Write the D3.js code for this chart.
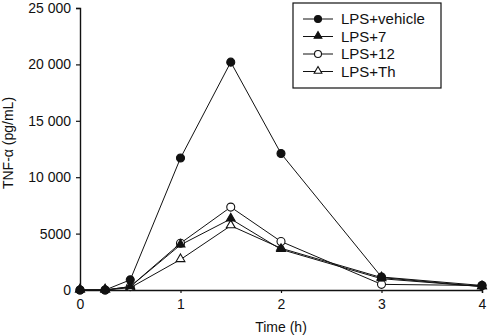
<!DOCTYPE html>
<html>
<head>
<meta charset="utf-8">
<script src="https://cdn.jsdelivr.net/npm/d3@7"></script>
<style>
  body { margin: 0; background: #fff; }
  text { font-family: "Liberation Sans", Arial, sans-serif; fill: #111; }
</style>
</head>
<body>
<div id="chart"></div>
<script>
// data
const times = [0, 0.25, 0.5, 1, 1.5, 2, 3, 4];
const vehicle = [0, 0, 900, 11700, 20200, 12100, 1150, 400];
const lps7 = [0, 0, 300, 4000, 6300, 3600, 1000, 300];
const lps12 = [0, 0, 300, 4150, 7350, 4300, 500, 400];
const lpsTh = [0, 0, 200, 2700, 5700, 3700, 1100, 300];
const seriesNames = ["LPS+vehicle", "LPS+7", "LPS+12", "LPS+Th"];
const xTicks = [0, 1, 2, 3, 4];
const yTicks = [0, 5000, 10000, 15000, 20000, 25000];

const series = [
    {name: seriesNames[0], values: vehicle, shape: "circle", filled: true},
    {name: seriesNames[1], values: lps7, shape: "triangle", filled: true},
    {name: seriesNames[2], values: lps12, shape: "circle", filled: false},
    {name: seriesNames[3], values: lpsTh, shape: "triangle", filled: false}
];

const W = 489, H = 336;
const margin = {top: 8, right: 7, bottom: 46, left: 80};
const width = W - margin.left - margin.right,
    height = H - margin.top - margin.bottom;

const svg = d3.select("#chart").append("svg")
    .attr("width", W)
    .attr("height", H)
    .append("g")
    .attr("transform", "translate(" + margin.left + "," + margin.top + ")");

const x = d3.scaleLinear().domain([0, 4]).range([0, width]);
const y = d3.scaleLinear().domain([0, 25000]).range([height, 0]);

const fmt = v => v >= 10000 ? d3.format(",")(v).replace(",", " ") : String(v);

const xAxis = svg.append("g")
    .attr("transform", "translate(0," + height + ")")
    .call(d3.axisBottom(x).tickValues(xTicks).tickSize(3).tickPadding(6).tickFormat(d3.format("d")));
const yAxis = svg.append("g")
    .call(d3.axisLeft(y).tickValues(yTicks).tickSize(4).tickPadding(5).tickFormat(fmt));

[xAxis, yAxis].forEach(a => {
    a.select(".domain").attr("stroke", "#111").attr("stroke-width", 1.4);
    a.selectAll(".tick line").attr("stroke", "#111").attr("stroke-width", 1.2);
    a.selectAll(".tick text").attr("font-size", 14).attr("fill", "#111")
        .style("font-family", "'Liberation Sans', Arial, sans-serif");
});

svg.append("text")
    .attr("x", width / 2)
    .attr("y", height + 42)
    .attr("text-anchor", "middle")
    .attr("font-size", 14)
    .text("Time (h)");

svg.append("text")
    .attr("transform", "translate(" + (-67) + "," + (height / 2 - 6) + ") rotate(-90)")
    .attr("text-anchor", "middle")
    .attr("font-size", 14)
    .text("TNF-α (pg/mL)");

const line = d3.line()
    .x((d, i) => x(times[i]))
    .y(d => y(d));

const triangle = d3.symbol().type(d3.symbolTriangle).size(34);

function drawMarker(g, s, cx, cy, r) {
    r = r || 4;
    if (s.shape === "circle") {
        g.append("circle")
            .attr("cx", cx).attr("cy", cy).attr("r", r)
            .attr("fill", s.filled ? "#111" : "#fff")
            .attr("stroke", "#111").attr("stroke-width", 1.1);
    } else {
        g.append("path")
            .attr("d", d3.symbol().type(d3.symbolTriangle).size(r * r * 2.1)())
            .attr("transform", "translate(" + cx + "," + (cy - 0.5) + ")")
            .attr("fill", s.filled ? "#111" : "#fff")
            .attr("stroke", "#111").attr("stroke-width", 1.1);
    }
}

// draw lines first, then markers on top
series.forEach(s => {
    svg.append("path")
        .datum(s.values)
        .attr("fill", "none")
        .attr("stroke", "#111")
        .attr("stroke-width", 1)
        .attr("d", line);
});
series.slice().reverse().forEach(s => {
    const g = svg.append("g");
    s.values.forEach((v, i) => drawMarker(g, s, x(times[i]), y(v)));
});

// legend
const legend = svg.append("g").attr("transform", "translate(213,-5)");
legend.append("rect")
    .attr("width", 148).attr("height", 85)
    .attr("fill", "#fff").attr("stroke", "#111").attr("stroke-width", 1.2);

series.forEach((s, i) => {
    const ly = 16 + i * 17.5;
    legend.append("line")
        .attr("x1", 10).attr("x2", 40)
        .attr("y1", ly).attr("y2", ly)
        .attr("stroke", "#111").attr("stroke-width", 1);
    drawMarker(legend, s, 25, ly, 3.5);
    legend.append("text")
        .attr("x", 48).attr("y", ly + 5)
        .attr("font-size", 15)
        .text(s.name);
});
</script>
</body>
</html>
